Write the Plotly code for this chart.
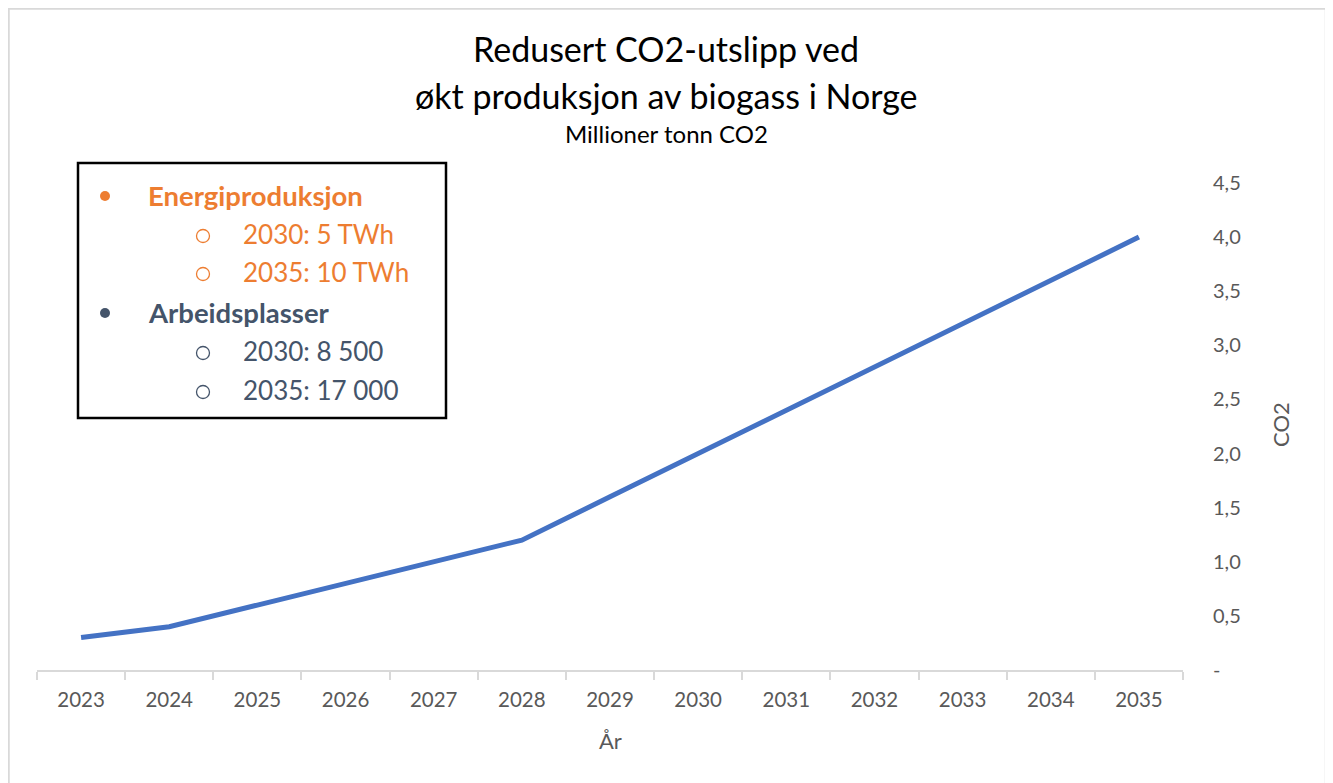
import plotly.graph_objects as go

# ---- data ----
years = [str(y) for y in range(2023, 2036)]
co2 = [0.3, 0.4, 0.6, 0.8, 1.0, 1.2, 1.6, 2.0, 2.4, 2.8, 3.2, 3.6, 4.0]
y_tickvals = [0, 0.5, 1.0, 1.5, 2.0, 2.5, 3.0, 3.5, 4.0, 4.5]
y_ticktext = ["-", "0,5", "1,0", "1,5", "2,0", "2,5", "3,0", "3,5", "4,0", "4,5"]

title_lines = ["Redusert CO2-utslipp ved", "økt produksjon av biogass i Norge"]
subtitle = "Millioner tonn CO2"
x_title = "År"
y_title = "CO2"

legend_head = ["Energiproduksjon", "Arbeidsplasser"]
legend_items = [["2030: 5 TWh", "2035: 10 TWh"], ["2030: 8 500", "2035: 17 000"]]

# ---- layout geometry (page pixels; the page body has an 8px margin) ----
OFF = 8
PAGE_W, PAGE_H = 1333, 783
W, H = PAGE_W - OFF, PAGE_H - OFF
L, R, T, B = 37, 1183, 183, 670
FONT = "Lato"
ORANGE = "#ED7D31"
SLATE = "#44546A"
GREY = "#595959"


def px(x):
    return (x - L) / (R - L)


def py(y):
    return (B - y) / (B - T)


fig = go.Figure()
fig.add_trace(go.Scatter(
    x=years, y=co2, mode="lines",
    line=dict(color="#4472C4", width=5),
    hoverinfo="x+y", showlegend=False,
))

annotations = []
shapes = []

# titles
annotations.append(dict(text=title_lines[0], x=px(666), y=py(48), xref="paper", yref="paper",
                        xanchor="center", yanchor="middle", showarrow=False,
                        font=dict(family=FONT, size=34, color="#000000")))
annotations.append(dict(text=title_lines[1], x=px(666), y=py(96), xref="paper", yref="paper",
                        xanchor="center", yanchor="middle", showarrow=False,
                        font=dict(family=FONT, size=34, color="#000000")))
annotations.append(dict(text=subtitle, x=px(666), y=py(134), xref="paper", yref="paper",
                        xanchor="center", yanchor="middle", showarrow=False,
                        font=dict(family=FONT, size=24, color="#000000")))
# axis titles
annotations.append(dict(text=x_title, x=px(610), y=py(740), xref="paper", yref="paper",
                        xanchor="center", yanchor="middle", showarrow=False,
                        font=dict(family=FONT, size=22, color=GREY)))
annotations.append(dict(text=y_title, x=px(1280), y=py(425), xref="paper", yref="paper",
                        xanchor="center", yanchor="middle", showarrow=False, textangle=-90,
                        font=dict(family=FONT, size=22, color=GREY)))

# legend-like text box
shapes.append(dict(type="rect", xref="paper", yref="paper",
                   x0=px(78), x1=px(446), y0=py(418), y1=py(163),
                   line=dict(color="#000000", width=2.5), fillcolor="white", layer="above"))

head_y = [195, 312]
item_y = [[234, 272], [351, 390]]
cols = [ORANGE, SLATE]
for g in range(2):
    annotations.append(dict(text="<b>" + legend_head[g] + "</b>", x=px(146), y=py(head_y[g]),
                            xref="paper", yref="paper", xanchor="left", yanchor="middle",
                            showarrow=False, font=dict(family=FONT, size=27.5, color=cols[g])))
    shapes.append(dict(type="circle", xref="paper", yref="paper",
                       xsizemode="pixel", ysizemode="pixel",
                       xanchor=px(105), yanchor=py(head_y[g] + 1),
                       x0=-5, x1=5, y0=-5, y1=5,
                       line=dict(color=cols[g], width=0), fillcolor=cols[g], layer="above"))
    for k in range(2):
        annotations.append(dict(text=legend_items[g][k], x=px(241), y=py(item_y[g][k]),
                                xref="paper", yref="paper", xanchor="left", yanchor="middle",
                                showarrow=False, font=dict(family=FONT, size=26, color=cols[g])))
        shapes.append(dict(type="circle", xref="paper", yref="paper",
                           xsizemode="pixel", ysizemode="pixel",
                           xanchor=px(203), yanchor=py(item_y[g][k] + 2),
                           x0=-6.5, x1=6.5, y0=-6.5, y1=6.5,
                           line=dict(color=cols[g], width=1.3), fillcolor="rgba(0,0,0,0)",
                           layer="above"))

# outer chart border
shapes.append(dict(type="rect", xref="paper", yref="paper",
                   x0=px(8.5), x1=px(1326), y0=py(800), y1=py(8.5),
                   line=dict(color="#D9D9D9", width=2.5), layer="below"))

fig.update_layout(
    width=W, height=H,
    margin=dict(l=L - OFF, r=PAGE_W - R, t=T - OFF, b=PAGE_H - B, pad=0),
    paper_bgcolor="white", plot_bgcolor="white",
    separators=", ",
    font=dict(family=FONT, color=GREY),
    showlegend=False,
    annotations=annotations,
    shapes=shapes,
    xaxis=dict(
        type="category", showgrid=False, zeroline=False,
        showline=True, linecolor="#D9D9D9", linewidth=1.5,
        ticks="outside", tickson="boundaries", ticklen=8, tickcolor="#D9D9D9", tickwidth=1.5,
        tickfont=dict(family=FONT, size=20.5, color=GREY),
        ticklabelstandoff=11,
        range=[-0.5, 12.5], fixedrange=True,
    ),
    yaxis=dict(
        side="right", range=[0, 4.5], showgrid=False, zeroline=False, showline=False,
        tickmode="array", tickvals=y_tickvals, ticktext=y_ticktext,
        ticks="", ticklabelstandoff=29,
        tickfont=dict(family=FONT, size=20, color=GREY), fixedrange=True,
    ),
)

fig.write_html("out.html")
